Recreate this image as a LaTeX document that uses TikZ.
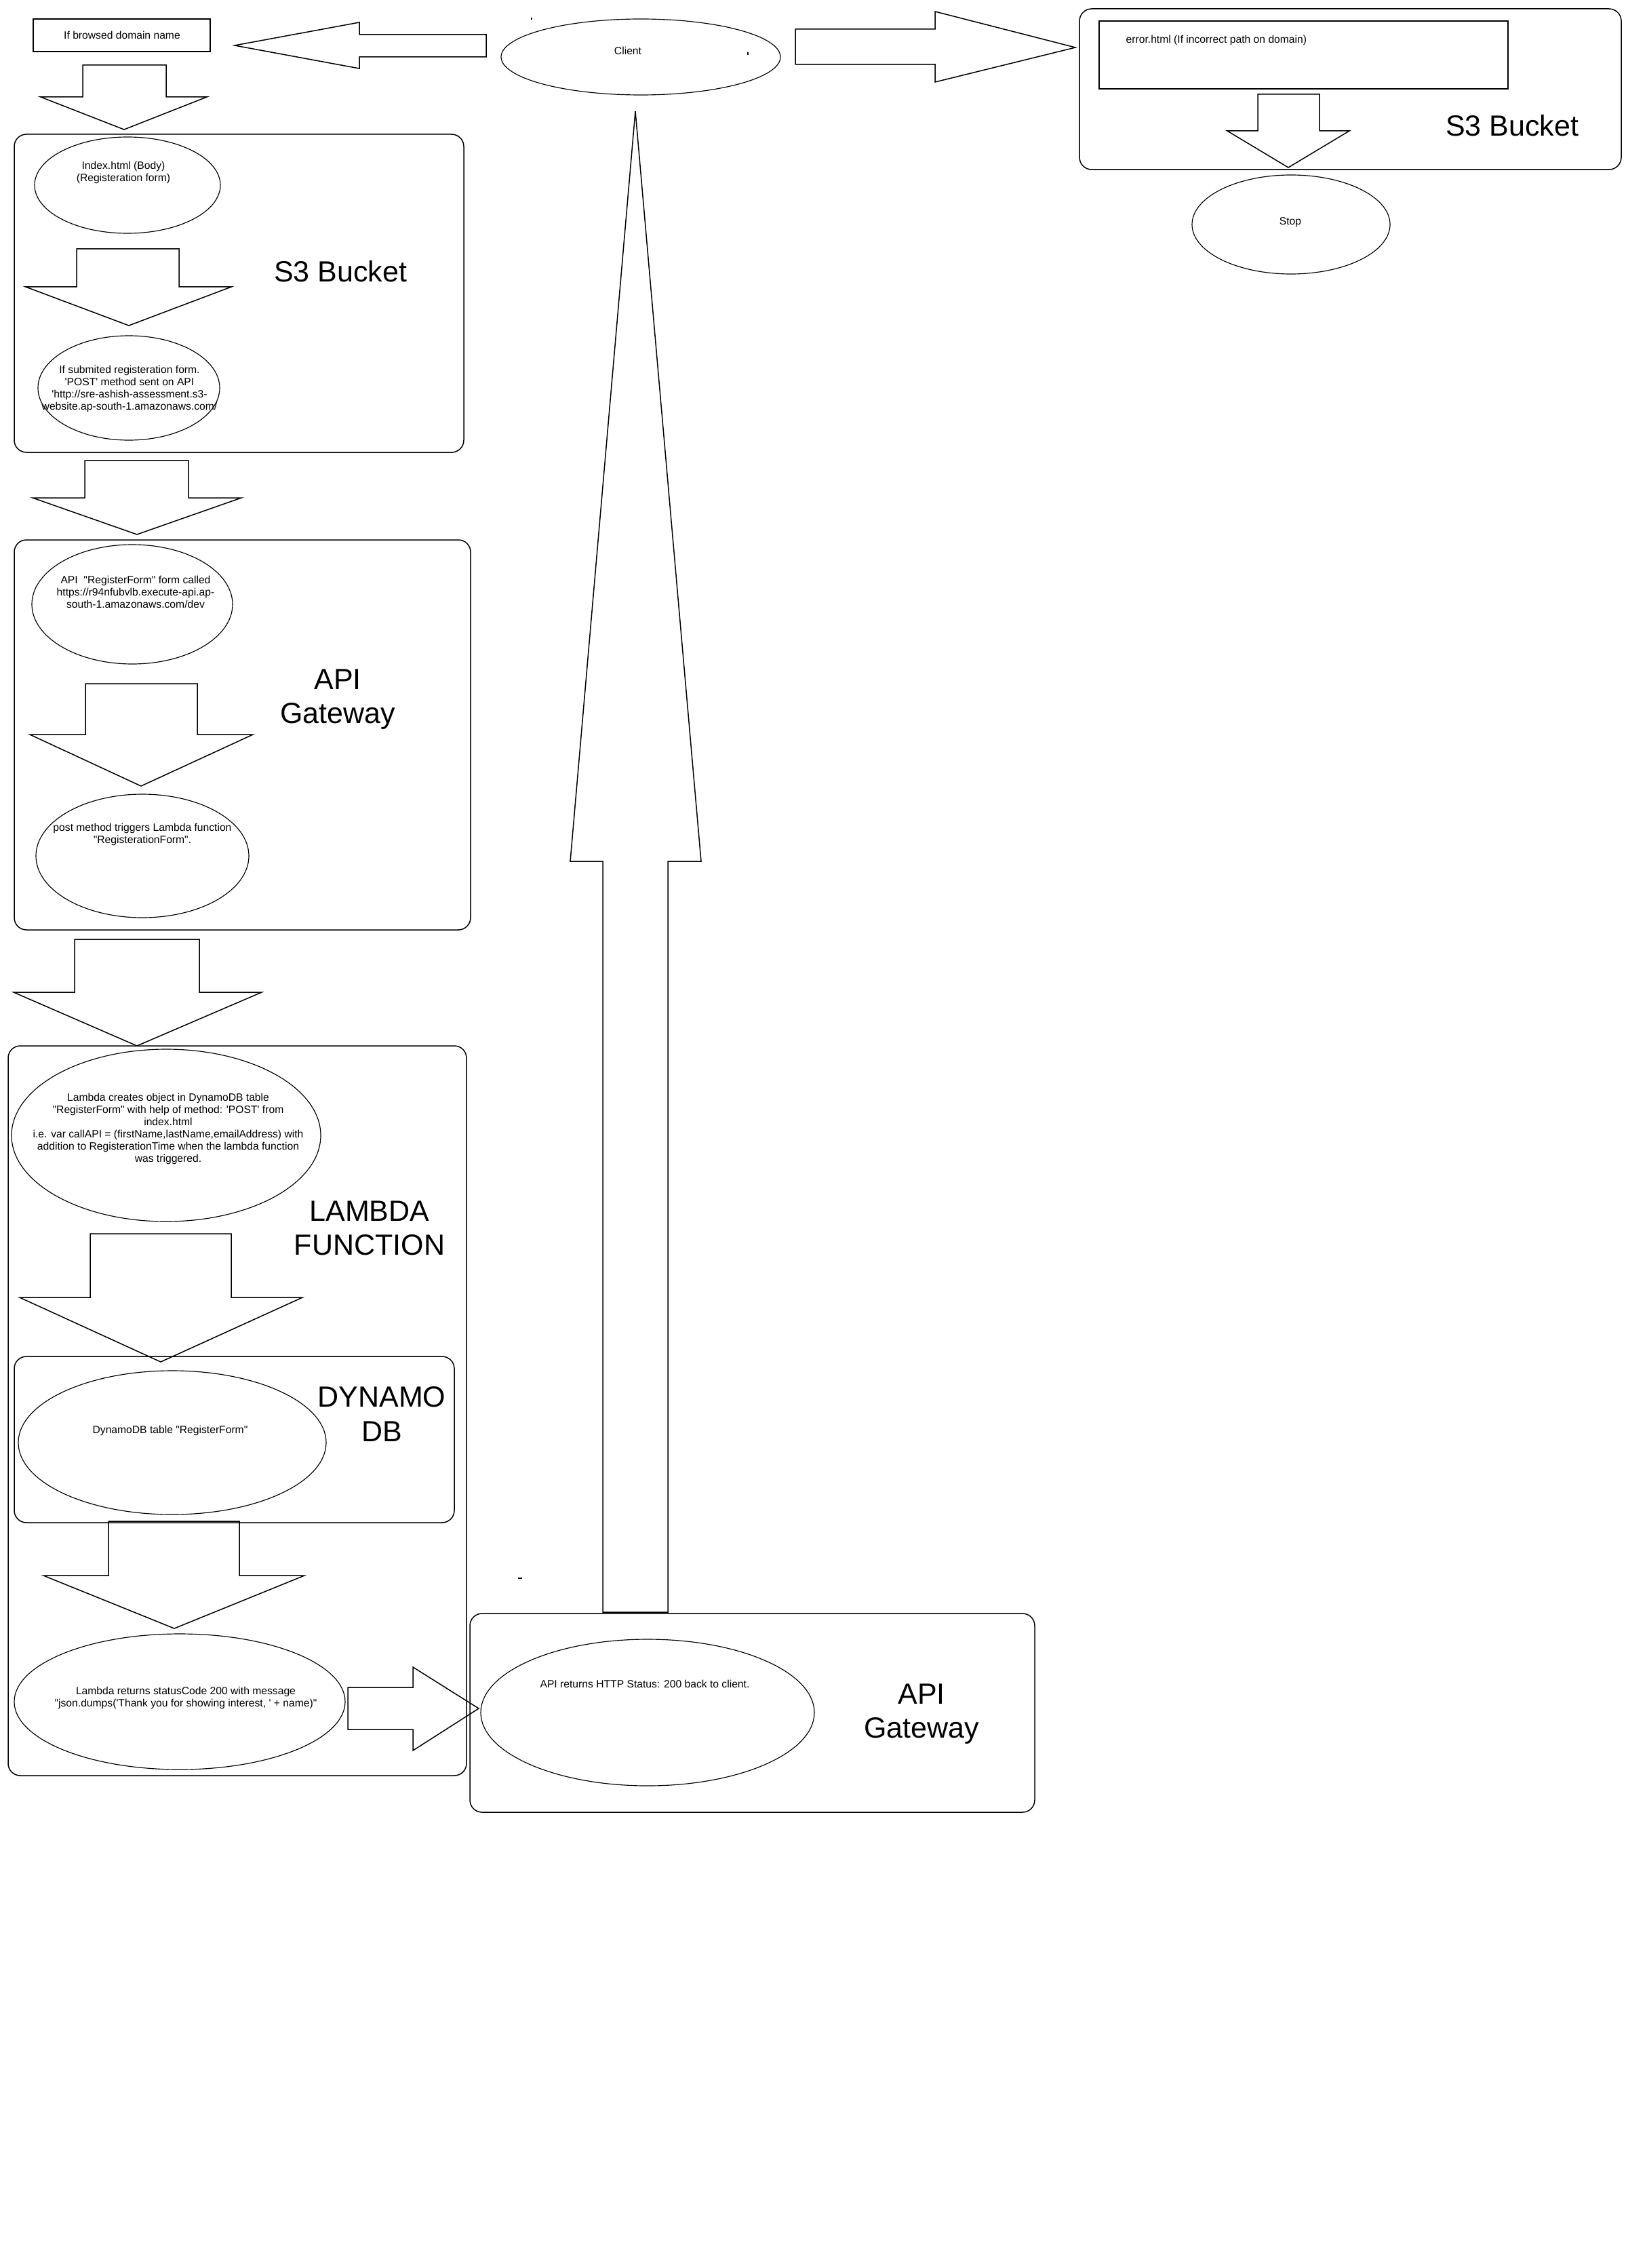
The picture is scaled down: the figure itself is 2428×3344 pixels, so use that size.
\documentclass[tikz,border=0pt]{standalone}
\usepackage{fontspec}
\setmainfont{Liberation Sans}[Ligatures=TeXOff]
\usetikzlibrary{shapes.geometric,fit}
\begin{document}
\begin{tikzpicture}[x=0.3pt,y=-0.3pt,
  ell/.style 2 args={draw, ellipse, inner sep=0, line width=0.35pt,
    minimum width={0.6pt*#1}, minimum height={0.6pt*#2}},
  grp/.style={draw, rectangle, rounded corners=5.4pt, inner sep=0, line width=0.45pt},
  sq/.style={draw, rectangle, inner sep=0, line width=0.45pt},
  blk/.style={draw, line width=0.45pt, line join=miter},
  small/.style={inner sep=0, font=\fontsize{4.7pt}{5.4pt}\selectfont},
  big/.style={inner sep=0, font=\fontsize{12.9pt}{15.2pt}\selectfont},
  ml/.style={anchor=north, align=center, execute at begin node=\strut}]
\fill[white] (0,0) rectangle (2428,3344);
\useasboundingbox (0,0) rectangle (2428,3344);

% corner coordinates of the containers
\coordinate (dA) at (49,28);    \coordinate (dB) at (310,76);
\coordinate (eA) at (1621,31);  \coordinate (eB) at (2224,131);
\coordinate (srA) at (1592,13); \coordinate (srB) at (2391,250);
\coordinate (slA) at (21,198);  \coordinate (slB) at (684,667);
\coordinate (agA) at (21,796);  \coordinate (agB) at (694,1371);
\coordinate (lbA) at (12,1542); \coordinate (lbB) at (688,2618);
\coordinate (dyA) at (21,2000); \coordinate (dyB) at (670,2245);
\coordinate (gwA) at (693,2379);\coordinate (gwB) at (1526,2672);

% containers
\node[sq, fit=(dA)(dB)] (domainbox) {};
\node[grp, fit=(srA)(srB)] (s3right) {};
\node[sq, fit=(eA)(eB)] (errorbox) {};
\node[grp, fit=(slA)(slB)] (s3left) {};
\node[grp, fit=(agA)(agB)] (apigw) {};
\node[grp, fit=(lbA)(lbB)] (lambdabox) {};
\node[grp, fit=(dyA)(dyB)] (dynamobox) {};
\node[grp, fit=(gwA)(gwB)] (apigw2) {};

% ellipses
\node[ell={206}{56}] (client) at (945,84) {};
\node[ell={146}{73}] (stop) at (1904,331) {};
\node[ell={137}{71}] (index) at (188,273) {};
\node[ell={134}{77}] (submit) at (190,572) {};
\node[ell={148}{88}] (apicall) at (195,891) {};
\node[ell={157}{91}] (trigger) at (210,1262) {};
\node[ell={228}{127}] (lcreate) at (245,1674) {};
\node[ell={227}{106}] (dtable) at (254,2127) {};
\node[ell={244}{100}] (lreturn) at (265,2509) {};
\node[ell={246}{108}] (areturn) at (955,2525) {};

% block arrows
\draw[blk] (717,51) -- (530,51) -- (530,33) -- (346,67) -- (530,101) -- (530,84) -- (717,84) -- cycle;
\draw[blk] (1173,43) -- (1379,43) -- (1379,17) -- (1586,70) -- (1379,121) -- (1379,95) -- (1173,95) -- cycle;
\draw[blk] (122,96) -- (245,96) -- (245,143) -- (305,143) -- (183,191) -- (60,143) -- (122,143) -- cycle;
\draw[blk] (1855,139) -- (1946,139) -- (1946,193) -- (1990,193) -- (1900,247) -- (1810,193) -- (1855,193) -- cycle;
\draw[blk] (113,367) -- (264,367) -- (264,423) -- (341,423) -- (190,480) -- (38,423) -- (113,423) -- cycle;
\draw[blk] (125,679) -- (278,679) -- (278,734) -- (356,734) -- (202,788) -- (48,734) -- (125,734) -- cycle;
\draw[blk] (126,1008) -- (291,1008) -- (291,1083) -- (373,1083) -- (208,1159) -- (44,1083) -- (126,1083) -- cycle;
\draw[blk] (110,1385) -- (294,1385) -- (294,1463) -- (386,1463) -- (202,1542) -- (20,1463) -- (110,1463) -- cycle;
\draw[blk] (133,1819) -- (341,1819) -- (341,1913) -- (446,1913) -- (237,2008) -- (29,1913) -- (133,1913) -- cycle;
\draw[blk] (160,2243) -- (353,2243) -- (353,2323) -- (449,2323) -- (257,2401) -- (64,2323) -- (160,2323) -- cycle;
\draw[blk] (513,2488) -- (609,2488) -- (609,2458) -- (706,2519) -- (609,2581) -- (609,2550) -- (513,2550) -- cycle;
\draw[blk] (889,2377) -- (889,1270) -- (841,1270) -- (937,164) -- (1034,1270) -- (985,1270) -- (985,2377) -- cycle;

% small texts
\node[small, anchor=base] (tdomain) at (180,57.5) {If browsed domain name};
\node[small, anchor=base] (tclient) at (926,80.5) {Client};
\node[small, anchor=base west] (terror) at (1660,63.5) {error.html (If incorrect path on domain)};
\node[small, anchor=base] (tstop) at (1903,331.5) {Stop};
\node[small, ml] (tindex) at (182,237.9) {Index.html (Body)\\(Registeration form)};
\node[small, ml] (tsubmit) at (191,538.9) {If submited registeration form.\\'POST' method sent on API\\'http://sre-ashish-assessment.s3-\\website.ap-south-1.amazonaws.com/};
\node[small, ml] (tapicall) at (200,848.9) {API~~"RegisterForm" form called\\https://r94nfubvlb.execute-api.ap-\\south-1.amazonaws.com/dev};
\node[small, ml] (ttrigger) at (210,1213.9) {post method triggers Lambda function\\"RegisterationForm".};
\node[small, ml] (tlcreate) at (248,1611.9) {Lambda creates object in DynamoDB table\\"RegisterForm" with help of method: 'POST' from\\index.html\\i.e. var callAPI = (firstName,lastName,emailAddress) with\\addition to RegisterationTime when the lambda function\\was triggered.};
\node[small, anchor=base] (tdtable) at (251,2113.5) {DynamoDB table "RegisterForm"};
\node[small, ml] (tlreturn) at (274,2486.9) {Lambda returns statusCode 200 with message\\"json.dumps('Thank you for showing interest, ' + name)"};
\node[small, anchor=base] (tareturn) at (951,2488.5) {API returns HTTP Status: 200 back to client.};

% big labels
\node[big, anchor=base] (ls3right) at (2230,200.5) {S3 Bucket};
\node[big, anchor=base] (ls3left) at (502,415.5) {S3 Bucket};
\node[big, ml] (lapigw) at (498,986) {API\\Gateway};
\node[big, ml] (llambda) at (545,1770) {LAMBDA\\FUNCTION};
\node[big, ml] (ldynamo) at (563,2044) {DYNAMO\\DB};
\node[big, ml] (lapigw2) at (1359,2482) {API\\Gateway};

% stray specks
\fill (783,26) rectangle (785,29);
\fill (1102,77) rectangle (1104,81);
\fill (764,2326) rectangle (770,2328);
\end{tikzpicture}
\end{document}
